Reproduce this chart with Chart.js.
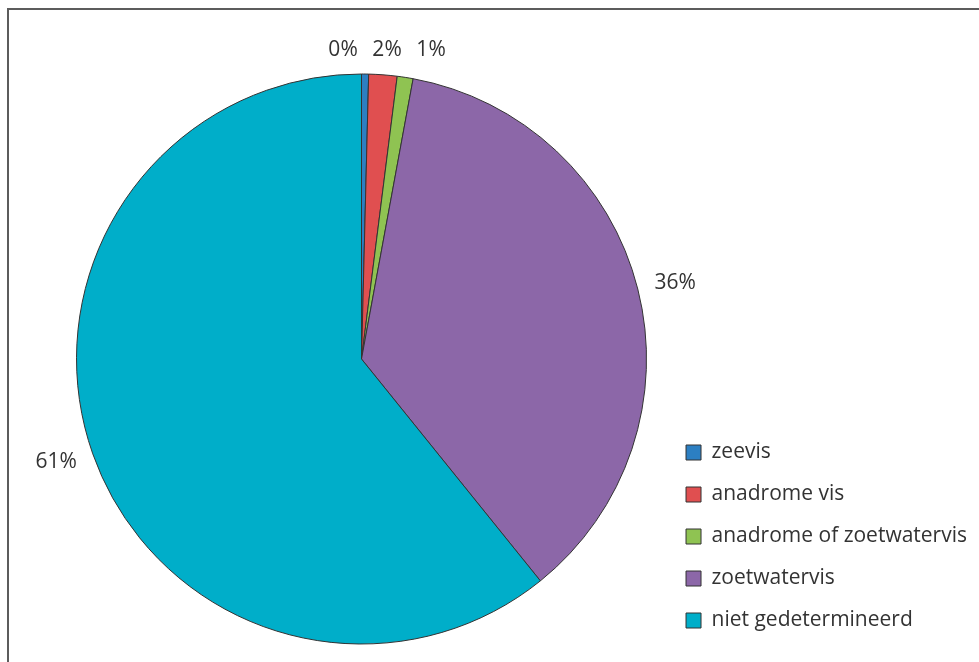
<!DOCTYPE html>
<html>
<head>
<meta charset="utf-8">
<script src="https://cdn.jsdelivr.net/npm/chart.js@4/dist/chart.umd.min.js"></script>
<style>
	body { margin: 0; background: #fff; overflow: hidden; }
	#wrap { position: relative; width: 979px; height: 662px; }
	#frame { position: absolute; left: 7px; top: 8px; width: 1000px; height: 700px; border: 2px solid #5c5c5c; }
	canvas { position: absolute; left: 0; top: 0; }
</style>
</head>
<body>
<div id="wrap">
	<div id="frame"></div>
	<canvas id="pieChart" width="979" height="662"></canvas>
</div>
<script>
const labels = ['zeevis', 'anadrome vis', 'anadrome of zoetwatervis', 'zoetwatervis', 'niet gedetermineerd'];
const values = [0.4, 1.6, 0.9, 36.3, 60.8];
const pctLabels = ['0%', '2%', '1%', '36%', '61%'];
const colors = ['#2c7fc2', '#e04f50', '#8fc352', '#8c67a8', '#00aec9'];

const fontFamily = '"Open Sans", Roboto, sans-serif';
Chart.defaults.font.family = fontFamily;
Chart.defaults.color = '#333';

// percentage labels outside the slices, small neighbours spread apart
const outsideLabels = {
	id: 'outsideLabels',
	afterDatasetsDraw(chart) {
		const ctx = chart.ctx;
		const arcs = chart.getDatasetMeta(0).data;
		ctx.save();
		ctx.font = '21px ' + fontFamily;
		ctx.fillStyle = '#333';
		ctx.textAlign = 'center';
		ctx.textBaseline = 'middle';
		let pts = arcs.map((arc, i) => {
			const mid = (arc.startAngle + arc.endAngle) / 2;
			const r = arc.outerRadius + 18;
			const w = ctx.measureText(pctLabels[i]).width;
			const h = 16;
			const c = Math.cos(mid), s = Math.sin(mid);
			return { i, x: arc.x + c * r + c * w / 2, y: arc.y + s * r + s * h / 2, w };
		});
		// spread the labels at the top so they do not overlap
		const top = pts.filter(p => p.y < arcs[0].y - arcs[0].outerRadius);
		if (top.length > 1) {
			const gap = 44;
			const mean = top.reduce((a, p) => a + p.x, 0) / top.length;
			const yMean = top.reduce((a, p) => a + p.y, 0) / top.length;
			top.sort((a, b) => a.x - b.x).forEach((p, k) => {
				p.x = mean + (k - (top.length - 1) / 2) * gap;
				p.y = yMean;
			});
		}
		pts.forEach(p => ctx.fillText(pctLabels[p.i], p.x, p.y));
		ctx.restore();
	}
};

new Chart(document.getElementById('pieChart'), {
	type: 'pie',
	data: {
		labels,
		datasets: [{
			data: values,
			backgroundColor: colors,
			borderColor: '#333',
			borderWidth: 1,
			radius: 285,
		}],
	},
	options: {
		responsive: false,
		animation: false,
		layout: { padding: { top: 66, bottom: 10, left: 58, right: 2 } },
		plugins: {
			tooltip: { enabled: false },
			legend: {
				position: 'right',
				align: 'end',
				labels: {
					boxWidth: 15,
					boxHeight: 15,
					padding: 21,
					font: { size: 21 },
					color: '#333',
				},
			},
		},
	},
	plugins: [outsideLabels],
});
</script>
</body>
</html>
